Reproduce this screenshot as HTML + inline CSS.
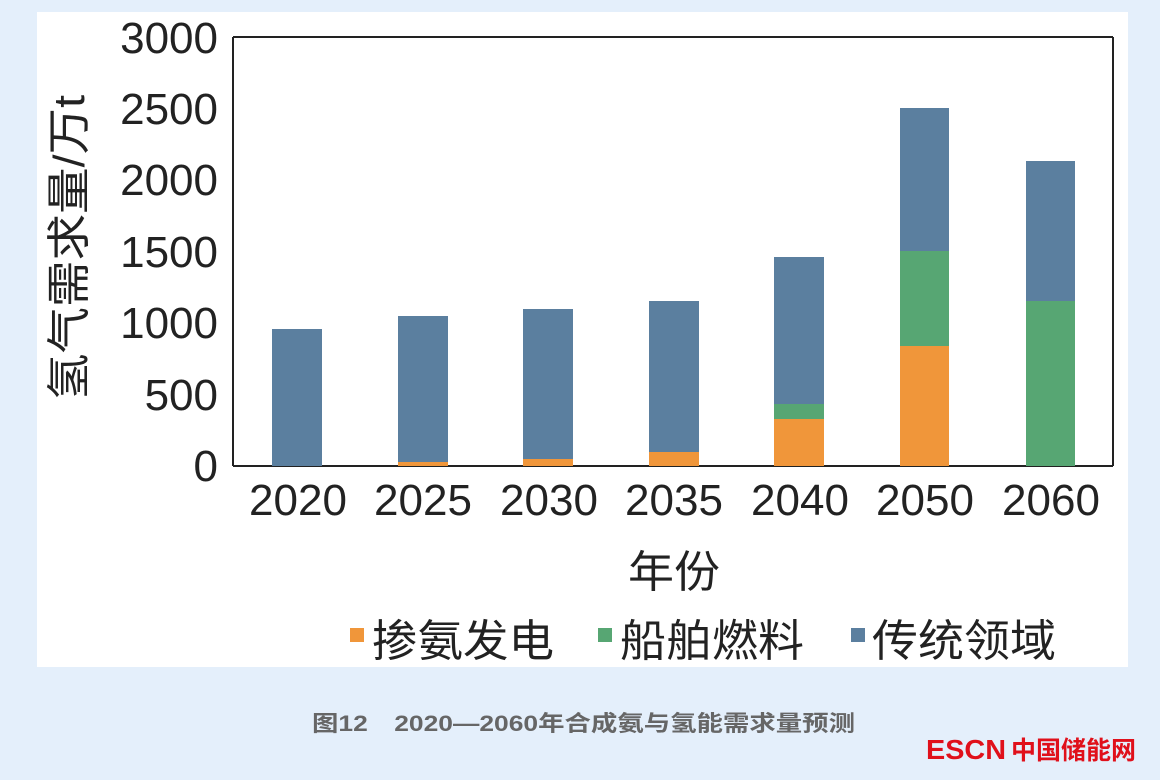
<!DOCTYPE html>
<html><head><meta charset="utf-8"><style>
body{margin:0;width:1160px;height:780px;background:#e4effb;overflow:hidden;font-family:"Liberation Sans","Noto Sans CJK SC",sans-serif;}
</style></head><body>
<svg width="1160" height="780" xmlns="http://www.w3.org/2000/svg" style="position:absolute;left:0;top:0">
<rect x="37" y="12" width="1091" height="655" fill="#fff"/>
<g font-family="Liberation Sans, Noto Sans CJK SC, sans-serif" fill="#222">
<g font-size="44" text-anchor="end">
<text x="218" y="481">0</text>
<text x="218" y="410">500</text>
<text x="218" y="338">1000</text>
<text x="218" y="267">1500</text>
<text x="218" y="195">2000</text>
<text x="218" y="124">2500</text>
<text x="218" y="53">3000</text>
</g>
<g stroke="#222" stroke-width="2">
<line x1="233" y1="37" x2="233" y2="466"/>
<line x1="233" y1="466" x2="1113" y2="466"/>
<line x1="1113" y1="37" x2="1113" y2="466"/>
<line x1="233" y1="37" x2="1113" y2="37"/>
</g>
<g>
<rect x="272" y="329" width="50" height="137" fill="#5b7f9f"/>
<rect x="398" y="316" width="50" height="150" fill="#5b7f9f"/>
<rect x="398" y="462" width="50" height="4" fill="#f0963a"/>
<rect x="523" y="309" width="50" height="157" fill="#5b7f9f"/>
<rect x="523" y="459" width="50" height="7" fill="#f0963a"/>
<rect x="649" y="301" width="50" height="165" fill="#5b7f9f"/>
<rect x="649" y="452" width="50" height="14" fill="#f0963a"/>
<rect x="774" y="257" width="50" height="209" fill="#5b7f9f"/>
<rect x="774" y="404" width="50" height="15" fill="#57a673"/>
<rect x="774" y="419" width="50" height="47" fill="#f0963a"/>
<rect x="900" y="108" width="49" height="358" fill="#5b7f9f"/>
<rect x="900" y="251" width="49" height="95" fill="#57a673"/>
<rect x="900" y="346" width="49" height="120" fill="#f0963a"/>
<rect x="1026" y="161" width="49" height="305" fill="#5b7f9f"/>
<rect x="1026" y="301" width="49" height="165" fill="#57a673"/>
</g>
<g font-size="44" text-anchor="middle">
<text x="298" y="515">2020</text>
<text x="423" y="515">2025</text>
<text x="549" y="515">2030</text>
<text x="674" y="515">2035</text>
<text x="800" y="515">2040</text>
<text x="925" y="515">2050</text>
<text x="1051" y="515">2060</text>
</g>
<text x="628" y="587" font-size="44" textLength="92" lengthAdjust="spacingAndGlyphs">年份</text>
<text transform="translate(84,400) rotate(-90)" font-size="44" textLength="305" lengthAdjust="spacingAndGlyphs">氢气需求量/万t</text>
<rect x="350" y="628" width="14" height="14" fill="#f0963a"/>
<text x="372" y="656" font-size="44" textLength="182" lengthAdjust="spacingAndGlyphs">掺氨发电</text>
<rect x="598" y="628" width="14" height="14" fill="#57a673"/>
<text x="620" y="656" font-size="44" textLength="184" lengthAdjust="spacingAndGlyphs">船舶燃料</text>
<rect x="851" y="628" width="14" height="14" fill="#5b7f9f"/>
<text x="872" y="656" font-size="44" textLength="184" lengthAdjust="spacingAndGlyphs">传统领域</text>
</g>
<text x="312" y="731" font-size="22" font-weight="bold" fill="#666" textLength="543" lengthAdjust="spacingAndGlyphs" font-family="Liberation Sans, Noto Sans CJK SC, sans-serif">图12　2020—2060年合成氨与氢能需求量预测</text>
<text x="926" y="759" font-size="28" font-weight="bold" fill="#e0101b" textLength="80" lengthAdjust="spacingAndGlyphs" font-family="Liberation Sans, Noto Sans CJK SC, sans-serif">ESCN</text>
<text x="1011" y="759" font-size="25" font-weight="bold" fill="#e0101b" textLength="125" lengthAdjust="spacingAndGlyphs" font-family="Noto Sans CJK SC, sans-serif">中国储能网</text>
</svg>
</body></html>
